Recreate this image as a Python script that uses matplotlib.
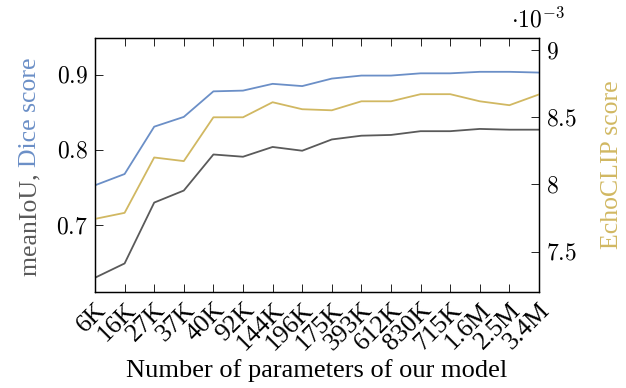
import matplotlib
matplotlib.use("Agg")
import matplotlib.pyplot as plt
from matplotlib.ticker import FuncFormatter, FixedLocator

plt.rcParams['font.family'] = ['Liberation Serif', 'DejaVu Serif']
plt.rcParams['mathtext.fontset'] = 'cm'

params = ["6K", "16K", "27K", "37K", "40K", "92K", "144K", "196K", "175K",
          "393K", "612K", "830K", "715K", "1.6M", "2.5M", "3.4M"]
dice = [0.753, 0.768, 0.831, 0.844, 0.878, 0.879, 0.888, 0.885, 0.895,
        0.899, 0.899, 0.902, 0.902, 0.904, 0.904, 0.903]
miou = [0.630, 0.649, 0.730, 0.746, 0.794, 0.791, 0.804, 0.799, 0.814,
        0.819, 0.820, 0.825, 0.825, 0.828, 0.827, 0.827]
echoclip = [7.744e-3, 7.789e-3, 8.201e-3, 8.174e-3, 8.500e-3, 8.500e-3, 8.612e-3,
            8.560e-3, 8.552e-3, 8.619e-3, 8.619e-3, 8.672e-3, 8.672e-3, 8.619e-3,
            8.590e-3, 8.670e-3]
left_ticks = [0.7, 0.8, 0.9]
right_ticks = [7.5e-3, 8e-3, 8.5e-3, 9e-3]

blue = '#6b8fc7'
gold = '#d1b862'
gray = '#5a5a5a'

FS = 18.5
NUM_FS = 17

W, H = 626, 388
fig = plt.figure(figsize=(W / 100, H / 100), dpi=100)
ax = fig.add_axes([95 / W, 1 - 292 / H, (539 - 95) / W, (292 - 38) / H])
x = list(range(len(params)))
ax.plot(x, dice, color=blue, lw=1.3)
ax.plot(x, miou, color=gray, lw=1.3)
ax.set_xlim(0, len(params) - 1)
ax.set_ylim(0.611, 0.949)
ax.yaxis.set_major_locator(FixedLocator(left_ticks))
ax.yaxis.set_major_formatter(FuncFormatter(lambda v, p: f"${v:.1f}$"))
ax.set_xticks(x)
ax.set_xticklabels(params, rotation=45, ha='right', rotation_mode='anchor')
ax.tick_params(axis='x', direction='in', top=True, length=6, width=0.6,
               labelsize=FS, pad=5)
ax.tick_params(axis='y', direction='in', length=6, width=0.6, labelsize=NUM_FS, pad=5)
for s in ax.spines.values():
    s.set_linewidth(0.9)
ax.set_xlabel("Number of parameters of our model", fontsize=19, labelpad=3)

ax2 = ax.twinx()
ax2.plot(x, echoclip, color=gold, lw=1.3)
ax2.set_ylim(7.20e-3, 9.09e-3)
ax2.yaxis.set_major_locator(FixedLocator(right_ticks))
ax2.yaxis.set_major_formatter(FuncFormatter(lambda v, p: f"${v * 1e3:g}$"))
ax2.tick_params(axis='y', direction='in', length=6, width=0.6, labelsize=NUM_FS, pad=5)
for s in ax2.spines.values():
    s.set_linewidth(0.9)
ax2.set_xlim(0, len(params) - 1)
fig.text(538 / W, 1 - 20 / H, r"$\cdot10^{-3}$", fontsize=NUM_FS, ha='center', va='center')

# Right label
fig.text(612 / W, 1 - 165 / H, "EchoCLIP score", color=gold, rotation=90,
         fontsize=FS, ha='center', va='center')

# Left two-colour label
fig.canvas.draw()
r = fig.canvas.get_renderer()
t1 = fig.text(30 / W, 1 - 276 / H, "meanIoU, ", color=gray, rotation=90,
              fontsize=FS, ha='center', va='bottom')
fig.canvas.draw()
bb = t1.get_window_extent(r)
fig.text(30 / W, bb.y1 / H, "Dice score", color=blue, rotation=90,
         fontsize=FS, ha='center', va='bottom')

fig.savefig("out.png", dpi=100)
